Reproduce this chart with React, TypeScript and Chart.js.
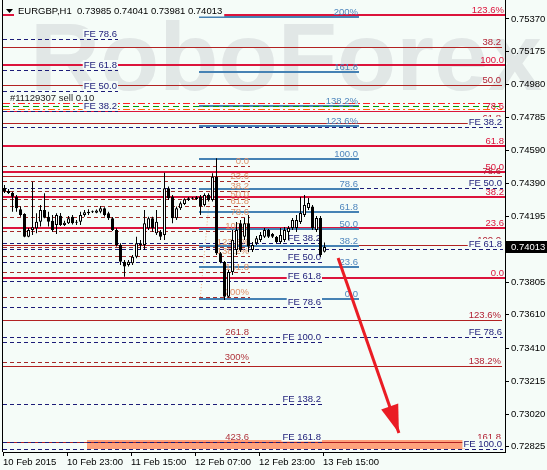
import React, { useEffect, useRef } from "react";
import { Chart, registerables } from "chart.js";

Chart.register(...registerables);

const FONT_FAMILY = "'Liberation Sans', Arial, sans-serif";
const LABEL_FONT = `9.5px ${FONT_FAMILY}`;
const BG = "#f5fcf8";
const NAVY = "#1c1c78";

// ---- quote ----
const chartTitle = "EURGBP,H1  0.73985 0.74041 0.73981 0.74013";
const lastPrice = 0.74013;

// hourly bars, bar 0 = 10 Feb 2015 07:00
const opens = [
  0.74365, 0.74347, 0.74337, 0.74313, 0.74238, 0.7421, 0.74075, 0.74115, 0.74125, 0.74164,
  0.74234, 0.74194, 0.7417, 0.74145, 0.742, 0.74145, 0.74155, 0.74194, 0.74164, 0.74164,
  0.74204, 0.74214, 0.74224, 0.74218, 0.74224, 0.74244, 0.74214, 0.74185, 0.74115, 0.74026,
  0.73926, 0.73907, 0.73917, 0.73956, 0.74026, 0.74026, 0.74125, 0.74185, 0.74095, 0.74105,
  0.74085, 0.74363, 0.74313, 0.74185, 0.74244, 0.7427, 0.74293, 0.74304, 0.74299, 0.74313,
  0.74264, 0.74323, 0.74293, 0.74432, 0.73976, 0.73925, 0.73718, 0.73865, 0.73996, 0.74155,
  0.74075, 0.74155, 0.73996, 0.74036, 0.74055, 0.74075, 0.74115, 0.74091, 0.74073, 0.74043,
  0.74055, 0.74103, 0.74127, 0.74127, 0.74162, 0.74204, 0.74245, 0.74254, 0.74115, 0.74186,
  0.73985,
];
const highs = [
  0.74383, 0.74359, 0.74343, 0.74323, 0.74254, 0.74214, 0.74127, 0.74402, 0.74214, 0.74264,
  0.74333, 0.74224, 0.74204, 0.74214, 0.74216, 0.74169, 0.74198, 0.74204, 0.74174, 0.74224,
  0.74234, 0.74238, 0.74231, 0.74236, 0.74258, 0.7425, 0.74224, 0.74192, 0.74125, 0.74036,
  0.73936, 0.73936, 0.73966, 0.74075, 0.74055, 0.74234, 0.74194, 0.74194, 0.74234, 0.74115,
  0.74456, 0.74373, 0.74323, 0.74254, 0.74284, 0.74304, 0.74311, 0.74311, 0.74317, 0.74323,
  0.74333, 0.74333, 0.74452, 0.74542, 0.73984, 0.73931, 0.73877, 0.74115, 0.74162, 0.74174,
  0.74186, 0.74204, 0.74043, 0.74079, 0.74103, 0.74127, 0.74121, 0.74097, 0.74079, 0.74127,
  0.74132, 0.74139, 0.74186, 0.74204, 0.74311, 0.74323, 0.74305, 0.74263, 0.74198, 0.74198,
  0.74041,
];
const lows = [
  0.74335, 0.74329, 0.74224, 0.74224, 0.74194, 0.74072, 0.74072, 0.74085, 0.74095, 0.74135,
  0.74184, 0.74135, 0.74105, 0.74091, 0.74139, 0.74139, 0.74151, 0.74148, 0.74145, 0.74145,
  0.74194, 0.74204, 0.74216, 0.74214, 0.74214, 0.74195, 0.74174, 0.74109, 0.74016, 0.73907,
  0.73837, 0.73897, 0.73907, 0.73946, 0.73996, 0.73996, 0.74115, 0.74105, 0.74085, 0.74055,
  0.74055, 0.74293, 0.74155, 0.74174, 0.74234, 0.74264, 0.74287, 0.74296, 0.74293, 0.74204,
  0.74254, 0.74284, 0.74284, 0.73966, 0.73917, 0.73698, 0.73713, 0.73847, 0.73966, 0.73984,
  0.74055, 0.73984, 0.73984, 0.74025, 0.74043, 0.74067, 0.74067, 0.74067, 0.74037, 0.74031,
  0.74043, 0.74055, 0.74115, 0.74103, 0.74151, 0.74192, 0.74233, 0.74115, 0.74103, 0.73954,
  0.73981,
];
const closes = [
  0.74344, 0.74335, 0.74313, 0.74244, 0.74204, 0.74075, 0.74115, 0.74131, 0.74164, 0.74234,
  0.74188, 0.74164, 0.74115, 0.74204, 0.74145, 0.74158, 0.74185, 0.74155, 0.74158, 0.74204,
  0.7422, 0.74224, 0.7422, 0.7423, 0.74244, 0.74204, 0.74185, 0.74115, 0.74026, 0.73926,
  0.73897, 0.73926, 0.73956, 0.74036, 0.74036, 0.74155, 0.74185, 0.74125, 0.74164, 0.74075,
  0.74363, 0.74304, 0.74185, 0.74244, 0.74274, 0.74298, 0.74304, 0.74301, 0.74309, 0.74254,
  0.74323, 0.74293, 0.74432, 0.73976, 0.73925, 0.73718, 0.73865, 0.74055, 0.74115, 0.73996,
  0.74155, 0.74016, 0.74026, 0.74066, 0.74085, 0.74115, 0.74075, 0.74075, 0.74043, 0.74085,
  0.74115, 0.74127, 0.74174, 0.74174, 0.74216, 0.74263, 0.74275, 0.74125, 0.74186, 0.73966,
  0.74013,
];

// ---- axes ----
const timeTickBars = [0, 16, 32, 48, 64, 80];
const timeTickLabels = ["10 Feb 2015", "10 Feb 23:00", "11 Feb 15:00", "12 Feb 07:00", "12 Feb 23:00", "13 Feb 15:00"];
const priceTicks = [0.7537, 0.75175, 0.7498, 0.74785, 0.7459, 0.7439, 0.74195, 0.73805, 0.7361, 0.7341, 0.73215, 0.7302, 0.72825];

// ---- fibonacci objects ----
const retLabels = ["123.6%", "100.0", "78.6", "61.8", "50.0", "38.2", "23.6", "0.0"];
const retLevels = [0.75395, 0.75096, 0.74825, 0.74612, 0.74462, 0.74313, 0.74128, 0.73829];

const extLabels = ["38.2", "50.0", "61.8", "78.6", "100.0", "123.6%", "138.2%", "161.8"];
const extLevels = [0.75203, 0.74977, 0.74751, 0.74433, 0.74025, 0.73579, 0.73305, 0.72856];

const swingLabels = ["200%", "161.8", "138.2%", "123.6%", "100.0", "78.6", "61.8", "50.0", "38.2", "23.6", "0.0"];
const swingLevels = [0.75379, 0.75055, 0.74855, 0.74733, 0.7454, 0.74359, 0.74219, 0.74121, 0.74019, 0.73897, 0.73704];

const fanLabels = ["0.0", "23.6", "38.2", "50.0", "61.8", "78.6", "100.0", "123.6%", "138.2%", "161.8", "200%", "261.8", "300%", "423.6"];
const fanLevels = [0.74495, 0.74406, 0.74347, 0.74302, 0.74257, 0.74192, 0.74109, 0.74013, 0.7396, 0.73865, 0.73719, 0.73478, 0.73329, 0.72853];

const feLeftLabels = ["FE 78.6", "FE 61.8", "FE 50.0", "FE 38.2"];
const feLeftLevels = [0.75251, 0.75067, 0.74942, 0.74823];

const feMidLabels = ["FE 38.2", "FE 50.0", "FE 61.8", "FE 78.6", "FE 100.0", "FE 138.2", "FE 161.8"];
const feMidLevels = [0.74037, 0.73924, 0.73811, 0.73656, 0.73448, 0.73079, 0.72853];

const feRightLabels = ["FE 38.2", "FE 50.0", "FE 61.8", "FE 78.6", "FE 100.0"];
const feRightLevels = [0.74727, 0.74364, 0.74002, 0.73478, 0.72812];

// open order lines
const orderLabel = "#11129307 sell 0.10";
const tradeLevels = [0.7487, 0.74852, 0.74835];

// target zone and projected move
const zoneBars = [20.6, 115.1];
const zonePrices = [0.72812, 0.72866];
const arrowBars = [83.4, 98.6];
const arrowPrices = [0.73948, 0.72907];
const trendBars = [48.9, 51.4];
const trendPrices = [0.73698, 0.74347];

// anchor times of the drawn objects, in bars
const retSpan = [-0.4, 125.2];
const extSpan = [-0.4, 124.4];
const swingSpan = [48.6, 88.6];
const fanSpan = [-0.4, 61.4];
const feLeftSpan = [-0.4, 28.4];
const feMidSpan = [-0.4, 79.4];
const feRightSpan = [-0.4, 124.6];
const tradeSpan = [-0.4, 124.4];

const X_MIN = -0.375;
const X_MAX = 125.125;
const Y_MIN = 0.72794;
const Y_MAX = 0.75483;

type Group = {
  levels: number[];
  labels: string[];
  span: number[];
  color: string;
  dash: number[];
  width: (l: string) => number;
  text: (l: string) => string;
  boxed: boolean;
};

const groups: Group[] = [
  { levels: fanLevels, labels: fanLabels, span: fanSpan, color: "#a52a2a", dash: [4, 3], width: () => 1,
    text: (l) => (parseFloat(l) > 200 ? "#b0343c" : "#e0906a"), boxed: false },
  { levels: extLevels, labels: extLabels, span: extSpan, color: "#b22222", dash: [], width: () => 1,
    text: () => "#b22234", boxed: false },
  { levels: retLevels, labels: retLabels, span: retSpan, color: "#dc143c", dash: [], width: (l) => (l === "78.6" ? 1 : 2),
    text: () => "#dc143c", boxed: false },
  { levels: feLeftLevels, labels: feLeftLabels, span: feLeftSpan, color: NAVY, dash: [4, 3], width: () => 1,
    text: () => NAVY, boxed: true },
  { levels: feMidLevels, labels: feMidLabels, span: feMidSpan, color: NAVY, dash: [4, 3], width: () => 1,
    text: () => NAVY, boxed: true },
  { levels: feRightLevels, labels: feRightLabels, span: feRightSpan, color: NAVY, dash: [4, 3], width: () => 1,
    text: () => NAVY, boxed: true },
  { levels: swingLevels, labels: swingLabels, span: swingSpan, color: "#4682b4", dash: [], width: () => 2,
    text: () => "#4f86bd", boxed: false },
];

const tradeStyles = [
  { color: "#ff2020", dash: [7, 3, 2, 3] },
  { color: "#00a000", dash: [6, 4] },
  { color: "#ff6a00", dash: [7, 3, 2, 3] },
];

function hLine(ctx: CanvasRenderingContext2D, x0: number, x1: number, y: number, w: number, color: string, dash: number[]) {
  const yy = w % 2 === 1 ? Math.round(y) + 0.5 : Math.round(y);
  ctx.save();
  ctx.strokeStyle = color;
  ctx.lineWidth = w;
  ctx.setLineDash(dash);
  ctx.beginPath();
  ctx.moveTo(Math.round(x0), yy);
  ctx.lineTo(Math.round(x1), yy);
  ctx.stroke();
  ctx.restore();
}

const objectsPlugin = {
  id: "mtObjects",
  beforeDraw(chart: any) {
    const { ctx, width, height } = chart;
    ctx.save();
    ctx.fillStyle = BG;
    ctx.fillRect(0, 0, width, height);
    ctx.font = `bold 97px ${FONT_FAMILY}`;
    ctx.fillStyle = "#e1e7e6";
    ctx.textBaseline = "alphabetic";
    ctx.textAlign = "left";
    ctx.fillText("RoboForex", 30, 90);
    ctx.restore();
  },
  beforeDatasetsDraw(chart: any) {
    const { ctx, chartArea: a } = chart;
    const xs = chart.scales.x;
    const ys = chart.scales.y;
    ctx.save();
    ctx.beginPath();
    ctx.rect(a.left, a.top, a.right - a.left, a.bottom - a.top);
    ctx.clip();

    // target zone
    const zx0 = Math.round(xs.getPixelForValue(zoneBars[0]));
    const zx1 = Math.round(xs.getPixelForValue(zoneBars[1]));
    const zy0 = Math.round(ys.getPixelForValue(zonePrices[1]));
    const zy1 = Math.round(ys.getPixelForValue(zonePrices[0]));
    ctx.fillStyle = "#ffa27c";
    ctx.fillRect(zx0, zy0, zx1 - zx0, zy1 - zy0);

    // fibo trend line
    ctx.save();
    ctx.strokeStyle = "#f2b48c";
    ctx.lineWidth = 1;
    ctx.setLineDash([1, 2]);
    ctx.beginPath();
    ctx.moveTo(xs.getPixelForValue(trendBars[0]), ys.getPixelForValue(trendPrices[0]));
    ctx.lineTo(xs.getPixelForValue(trendBars[1]), ys.getPixelForValue(trendPrices[1]));
    ctx.stroke();
    ctx.restore();

    // level lines
    for (const g of groups) {
      const x0 = xs.getPixelForValue(g.span[0]);
      const x1 = xs.getPixelForValue(g.span[1]);
      g.levels.forEach((lv, i) => {
        hLine(ctx, x0, x1, ys.getPixelForValue(lv), g.width(g.labels[i]), g.color, g.dash);
      });
    }
    // order lines
    const tx0 = xs.getPixelForValue(tradeSpan[0]);
    const tx1 = xs.getPixelForValue(tradeSpan[1]);
    tradeLevels.forEach((lv, i) => {
      hLine(ctx, tx0, tx1, ys.getPixelForValue(lv), 1, tradeStyles[i].color, tradeStyles[i].dash);
    });

    ctx.font = LABEL_FONT;
    ctx.textBaseline = "alphabetic";
    // order label
    ctx.textAlign = "left";
    ctx.fillStyle = "#202020";
    ctx.fillText(orderLabel, 10, Math.round(ys.getPixelForValue(tradeLevels[0])) - 2);

    // plain level labels, then boxed FE labels on top
    for (const pass of [false, true]) {
      for (const g of groups) {
        if (g.boxed !== pass) continue;
        const xr = Math.round(xs.getPixelForValue(g.span[1])) - 1;
        g.levels.forEach((lv, i) => {
          const label = g.labels[i];
          const base = Math.round(ys.getPixelForValue(lv)) - 2;
          ctx.textAlign = "right";
          if (g.boxed) {
            const w = ctx.measureText(label).width;
            ctx.fillStyle = BG;
            ctx.fillRect(xr - w - 1, base - 8, w + 2, 9.5);
          }
          ctx.fillStyle = g.text(label);
          ctx.fillText(label, xr, base);
        });
      }
    }
    ctx.restore();
  },
  afterDatasetsDraw(chart: any) {
    const { ctx } = chart;
    const xs = chart.scales.x;
    const ys = chart.scales.y;
    const x0 = xs.getPixelForValue(arrowBars[0]);
    const y0 = ys.getPixelForValue(arrowPrices[0]);
    const x1 = xs.getPixelForValue(arrowBars[1]);
    const y1 = ys.getPixelForValue(arrowPrices[1]);
    const len = Math.hypot(x1 - x0, y1 - y0);
    const dx = (x1 - x0) / len;
    const dy = (y1 - y0) / len;
    const bx = x1 - dx * 28;
    const by = y1 - dy * 28;
    ctx.save();
    ctx.fillStyle = "#ea1c24";
    ctx.beginPath();
    ctx.moveTo(x1, y1);
    ctx.lineTo(bx - dy * 9, by + dx * 9);
    ctx.lineTo(bx + dy * 9, by - dx * 9);
    ctx.closePath();
    ctx.fill();
    ctx.restore();
  },
  afterDraw(chart: any) {
    const { ctx, chartArea: a } = chart;
    const ys = chart.scales.y;
    ctx.save();
    // left frame
    ctx.fillStyle = "#000";
    ctx.fillRect(2, 0, 1, a.bottom);

    // title
    ctx.font = LABEL_FONT;
    ctx.textBaseline = "alphabetic";
    ctx.textAlign = "left";
    const tw = ctx.measureText(chartTitle).width;
    ctx.fillStyle = BG;
    ctx.fillRect(14, 3, tw + 6, 13.5);
    ctx.fillStyle = "#000";
    ctx.beginPath();
    ctx.moveTo(6, 9);
    ctx.lineTo(13, 9);
    ctx.lineTo(9.5, 13);
    ctx.closePath();
    ctx.fill();
    ctx.fillText(chartTitle, 18, 14);

    // current price marker
    const py = Math.round(ys.getPixelForValue(lastPrice));
    ctx.fillStyle = "#000";
    ctx.fillRect(a.right + 1, py - 6, chart.width - a.right - 1, 12);
    ctx.fillStyle = "#fff";
    ctx.textBaseline = "middle";
    ctx.fillText(lastPrice.toFixed(5), a.right + 6, py + 0.5);
    ctx.restore();
  },
};

export default function App() {
  const ref = useRef<HTMLCanvasElement | null>(null);

  useEffect(() => {
    document.body.style.margin = "0";
    const canvas = ref.current;
    if (!canvas) return;
    Chart.defaults.font.family = FONT_FAMILY;

    const wickData = opens.map((_, i) => ({ x: i, y: [lows[i], highs[i]] }));
    const bodyData = opens.map((o, i) => ({ x: i, y: [o, closes[i]] }));
    const bodyFill = opens.map((o, i) => (closes[i] >= o ? "#ffffff" : "#000000"));

    const tickFont = { family: FONT_FAMILY, size: 9.5 };
    const axisGrid = { display: true, drawOnChartArea: false, drawTicks: true, tickLength: 4, color: "#000", offset: false };

    const chart = new Chart(canvas, {
      type: "bar",
      data: {
        datasets: [
          {
            type: "bar",
            label: "body",
            data: bodyData as any,
            backgroundColor: bodyFill,
            borderColor: "#000",
            borderWidth: 1,
            borderSkipped: false,
            barThickness: 3,
            grouped: false,
            minBarLength: 1,
            inflateAmount: 0,
            order: 0,
          } as any,
          {
            type: "bar",
            label: "wick",
            data: wickData as any,
            backgroundColor: "#000",
            borderWidth: 0,
            barThickness: 1,
            grouped: false,
            inflateAmount: 0,
            order: 1,
          } as any,
          {
            type: "line",
            label: "arrow",
            data: [
              { x: arrowBars[0], y: arrowPrices[0] },
              { x: arrowBars[1], y: arrowPrices[1] },
            ],
            borderColor: "#ea1c24",
            borderWidth: 3,
            pointRadius: 0,
            borderCapStyle: "butt",
            order: 2,
          } as any,
        ],
      },
      options: {
        responsive: false,
        maintainAspectRatio: false,
        devicePixelRatio: 1,
        animation: false,
        events: [],
        layout: { padding: { left: 3, top: 0, right: 0, bottom: 0 } },
        plugins: { legend: { display: false }, tooltip: { enabled: false } },
        scales: {
          x: {
            type: "linear",
            min: X_MIN,
            max: X_MAX,
            bounds: "data",
            offset: false,
            grid: axisGrid,
            border: { display: true, color: "#000", width: 1 },
            ticks: {
              autoSkip: false,
              maxRotation: 0,
              minRotation: 0,
              align: "start",
              padding: 1,
              color: "#000",
              font: tickFont,
              callback: (_v: any, i: number) => timeTickLabels[i] ?? "",
            },
            afterBuildTicks: (s: any) => {
              s.ticks = timeTickBars.map((b) => ({ value: b - 0.375 }));
            },
            afterFit: (s: any) => {
              s.height = 18;
              s.paddingLeft = 0;
              s.paddingRight = 0;
            },
          },
          y: {
            type: "linear",
            position: "right",
            min: Y_MIN,
            max: Y_MAX,
            bounds: "data",
            grid: axisGrid,
            border: { display: true, color: "#000", width: 1 },
            ticks: {
              autoSkip: false,
              padding: 2,
              color: "#000",
              font: tickFont,
              callback: (v: any) => Number(v).toFixed(5),
            },
            afterBuildTicks: (s: any) => {
              s.ticks = priceTicks.map((v) => ({ value: v }));
            },
            afterFit: (s: any) => {
              s.width = 42;
              s.paddingTop = 0;
              s.paddingBottom = 0;
            },
          },
        },
      } as any,
      plugins: [objectsPlugin],
    });

    return () => chart.destroy();
  }, []);

  return (
    <div style={{ width: 547, height: 470 }}>
      <canvas ref={ref} width={547} height={470} style={{ display: "block", width: 547, height: 470 }} />
    </div>
  );
}
